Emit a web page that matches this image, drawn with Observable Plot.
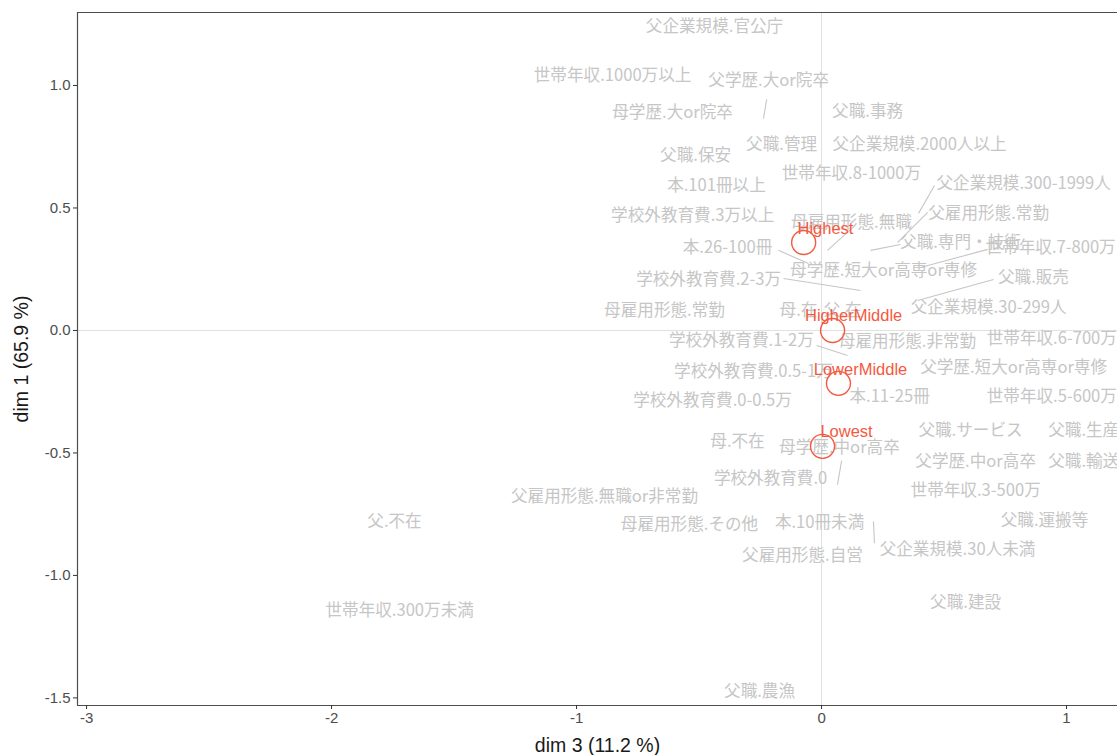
<!DOCTYPE html>
<html>
<head>
<meta charset="utf-8">
<script src="https://cdn.jsdelivr.net/npm/d3@7"></script>
<script src="https://cdn.jsdelivr.net/npm/@observablehq/plot@0.6"></script>
<style>
  html, body { margin: 0; padding: 0; background: white; overflow: hidden; }
  svg { display: block; }
  g[aria-label$="tick label"] text { font-size: 15px; }
</style>
</head>
<body>
<div id="chart"></div>
<script>
// Category labels (dim 3 = x, dim 1 = y), positions
const catLabels = [
  "父企業規模.官公庁","世帯年収.1000万以上","父学歴.大or院卒","母学歴.大or院卒","父職.事務",
  "父職.管理","父企業規模.2000人以上","父職.保安","世帯年収.8-1000万","本.101冊以上",
  "父企業規模.300-1999人","学校外教育費.3万以上","父雇用形態.常勤","母雇用形態.無職","本.26-100冊",
  "父職.専門・技術","世帯年収.7-800万","母学歴.短大or高専or専修","学校外教育費.2-3万","父職.販売",
  "母雇用形態.常勤","母.在","父.在","父企業規模.30-299人","学校外教育費.1-2万",
  "母雇用形態.非常勤","世帯年収.6-700万","学校外教育費.0.5-1万","父学歴.短大or高専or専修","学校外教育費.0-0.5万",
  "本.11-25冊","世帯年収.5-600万","父職.サービス","父職.生産","母.不在",
  "母学歴.中or高卒","父学歴.中or高卒","父職.輸送","学校外教育費.0","世帯年収.3-500万",
  "父雇用形態.無職or非常勤","父.不在","母雇用形態.その他","本.10冊未満","父職.運搬等",
  "父企業規模.30人未満","父雇用形態.自営","父職.建設","世帯年収.300万未満","父職.農漁"
];
const catX = [
  -0.437,-0.853,-0.216,-0.608,0.188,
  -0.163,0.400,-0.514,0.122,-0.429,
  0.825,-0.526,0.682,0.122,-0.384,
  0.567,0.935,0.253,-0.461,0.865,
  -0.641,-0.094,0.086,0.682,-0.327,
  0.351,0.940,-0.278,0.784,-0.445,
  0.278,0.940,0.608,1.070,-0.343,
  0.073,0.629,1.070,-0.208,0.629,
  -0.886,-1.743,-0.539,-0.008,0.910,
  0.555,-0.078,0.588,-1.722,-0.253
];
const catY = [
  1.241,1.041,1.020,0.890,0.894,
  0.759,0.759,0.714,0.641,0.592,
  0.600,0.469,0.478,0.441,0.339,
  0.359,0.339,0.245,0.208,0.216,
  0.082,0.082,0.082,0.094,-0.041,
  -0.045,-0.033,-0.167,-0.151,-0.286,
  -0.269,-0.269,-0.408,-0.408,-0.453,
  -0.478,-0.535,-0.535,-0.604,-0.653,
  -0.678,-0.780,-0.792,-0.784,-0.776,
  -0.894,-0.918,-1.110,-1.143,-1.473
];

// Repel connector segments (label edge -> category point)
const segFromX = [-0.224,0.461,0.433,0.322,0.118,-0.176,-0.155,0.678,0.702,-0.020,0.082,0.212];
const segFromY = [0.943,0.592,0.482,0.351,0.412,0.327,0.212,0.331,0.208,-0.061,-0.531,-0.780];
const segToX   = [-0.237,0.396,0.310,0.200,0.024,-0.053,0.159,0.404,0.392,0.106,0.065,0.216];
const segToY   = [0.865,0.478,0.359,0.327,0.327,0.273,0.163,0.257,0.122,-0.102,-0.629,-0.869];

// Supplementary (group) points
const groupNames = ["Highest","HigherMiddle","LowerMiddle","Lowest"];
const groupX = [-0.073,0.045,0.069,0.004];
const groupY = [0.359,0.000,-0.216,-0.473];
const groupLabelX = [0.016,0.131,0.159,0.102];
const groupLabelY = [0.416,0.061,-0.159,-0.412];

const xTicks = [-3,-2,-1,0,1];
const yTicks = [-1.5,-1.0,-0.5,0.0,0.5,1.0];
const xTitle = "dim 3 (11.2 %)";
const yTitle = "dim 1 (65.9 %)";

const xDomain = [-3.037, 1.208];
const yDomain = [-1.531, 1.298];

const cats = catLabels.map((t,i)=>({t, x:catX[i], y:catY[i]}));
const segs = segFromX.map((_,i)=>({x1:segFromX[i], y1:segFromY[i], x2:segToX[i], y2:segToY[i]}));
const groups = groupNames.map((n,i)=>({n, x:groupX[i], y:groupY[i], lx:groupLabelX[i], ly:groupLabelY[i]}));

const red = "#f4593f";
const grey = "#c6c6c6";
const axisCol = "#4d4d4d";

const chart = Plot.plot({
  width: 1117,
  height: 755,
  marginLeft: 77,
  marginRight: 0,
  marginTop: 12,
  marginBottom: 50,
  style: {fontFamily: "Liberation Sans, Arial, sans-serif", fontSize: "15px", background: "white"},
  x: {domain: xDomain, axis: null},
  y: {domain: yDomain, axis: null},
  marks: [
    Plot.ruleX([0], {stroke: "#e0e0e0", strokeWidth: 1}),
    Plot.ruleY([0], {stroke: "#e0e0e0", strokeWidth: 1}),
    Plot.ruleY([yDomain[1]], {stroke: axisCol, strokeWidth: 1.2}),
    Plot.ruleY([yDomain[0]], {stroke: axisCol, strokeWidth: 1.2}),
    Plot.ruleX([xDomain[0]], {stroke: axisCol, strokeWidth: 1.2}),
    Plot.axisX({ticks: xTicks, tickFormat: d => String(d), tickSize: 4, tickPadding: 3,
      stroke: "#333", fill: axisCol, fontSize: 15, label: null}),
    Plot.axisY({ticks: yTicks, tickFormat: d => d.toFixed(1), tickSize: 4, tickPadding: 3,
      stroke: "#333", fill: axisCol, fontSize: 15, label: null}),
    Plot.text(cats, {x: "x", y: "y", text: "t", fill: grey, fontSize: 16.6,
      fontFamily: "Noto Sans CJK JP, sans-serif"}),
    Plot.link(segs, {x1: "x1", y1: "y1", x2: "x2", y2: "y2", stroke: grey, strokeWidth: 1.1}),
    Plot.dot(groups, {x: "x", y: "y", r: 12, fill: "none", stroke: red, strokeWidth: 1.4}),
    Plot.text(groups, {x: "lx", y: "ly", text: "n", fill: red, fontSize: 16.5,
      fontFamily: "Liberation Sans, Arial, sans-serif"}),
    Plot.text([xTitle], {frameAnchor: "bottom", lineAnchor: "middle", textAnchor: "middle", dy: 40,
      text: d => d, fill: "#1a1a1a", fontSize: 19.5}),
    Plot.text([yTitle], {frameAnchor: "left", lineAnchor: "middle", textAnchor: "middle", dx: -56, rotate: -90,
      text: d => d, fill: "#1a1a1a", fontSize: 19.5})
  ]
});
document.getElementById("chart").appendChild(chart);
</script>
</body>
</html>
